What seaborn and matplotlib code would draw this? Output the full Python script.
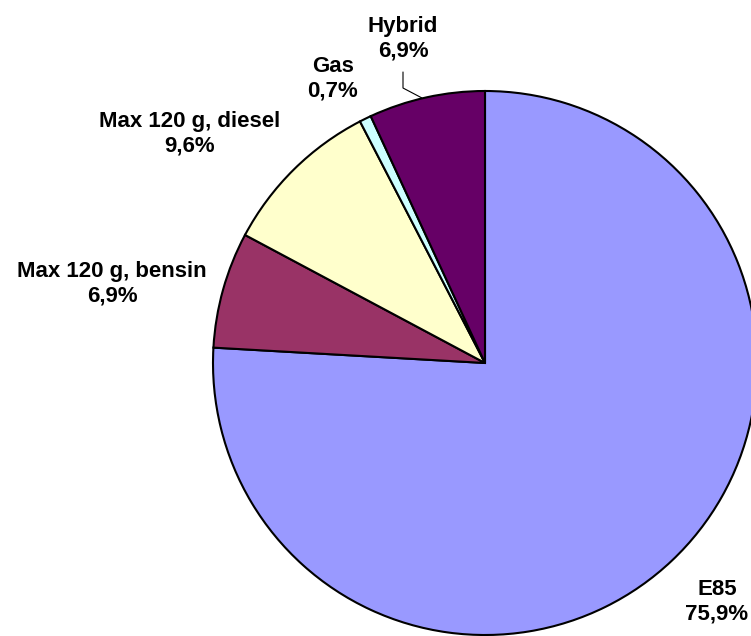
import matplotlib
matplotlib.use('Agg')
import matplotlib.pyplot as plt
import seaborn as sns

# Data
categories = ['E85', 'Max 120 g, bensin', 'Max 120 g, diesel', 'Gas', 'Hybrid']
shares = [75.9, 6.9, 9.6, 0.7, 6.9]
slice_colors = ['#9999FF', '#993366', '#FFFFCC', '#CCFFFF', '#660066']

sns.set_style('white')
plt.rcParams['font.family'] = ['Liberation Sans', 'DejaVu Sans']
plt.rcParams['text.color'] = 'black'

W, H = 751, 636
fig = plt.figure(figsize=(W / 100, H / 100), dpi=100)
ax = fig.add_axes([0, 0, 1, 1])

cx, cy, r = 485, H - 363, 272
ax.pie(shares, colors=slice_colors, startangle=90, counterclock=False,
       center=(cx, cy), radius=r,
       wedgeprops=dict(edgecolor='black', linewidth=1.5))
ax.set_xlim(0, W)
ax.set_ylim(0, H)
ax.set_aspect('equal')
ax.axis('off')

# label positions (image pixels, centre of the two-line block)
label_pos = {
    'E85': (717, 602),
    'Max 120 g, bensin': (112, 284),
    'Max 120 g, diesel': (190, 134),
    'Gas': (333, 79),
    'Hybrid': (403, 39),
}
for name, val in zip(categories, shares):
    x, y = label_pos[name]
    txt = f"{name}\n{val:.1f}%".replace('.', ',')
    ax.text(x, H - y, txt, ha='center', va='center', fontsize=16,
            fontweight='bold', linespacing=1.2, color='black')

# leader line for Hybrid
ax.plot([403, 403, 422], [H - 72, H - 88, H - 98], color='black', lw=0.8)

fig.savefig('out.png', dpi=100)
